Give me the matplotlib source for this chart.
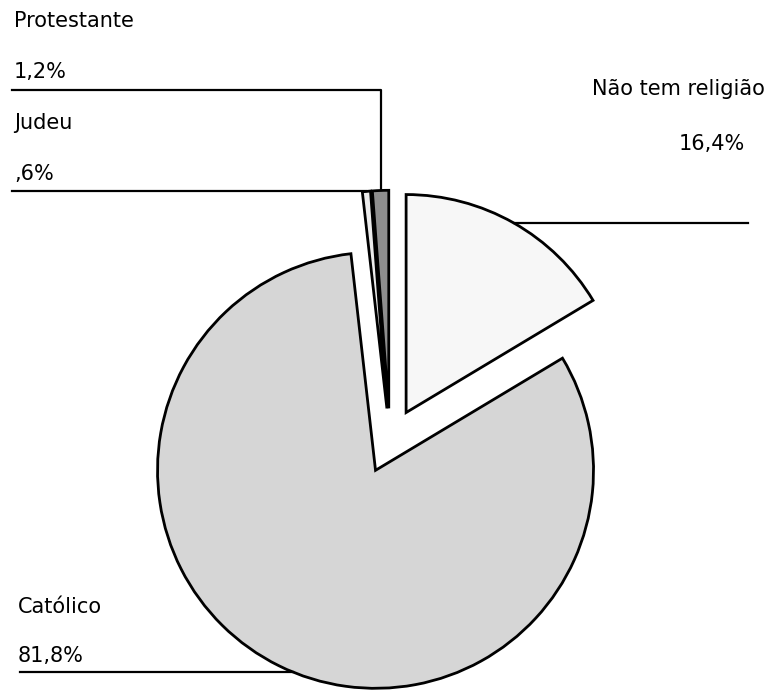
import numpy as np
import matplotlib.pyplot as plt

# data (clockwise from 12 o'clock)
categories = ['Não tem religião', 'Católico', 'Judeu', 'Protestante']
values = [16.4, 81.8, 0.6, 1.2]
pct_labels = ['16,4%', '81,8%', ',6%', '1,2%']
colors = ['#f7f7f7', '#d6d6d6', '#ececec', '#8e8e8e']

W, H = 768, 691
R_PX = 218.0          # pie radius in pixels
CX, CY = 390, 441     # pie centre in pixels (from top-left)


def px(x, y):
    # image pixel -> data coords
    return (x - CX) / R_PX, (CY - y) / R_PX


fig = plt.figure(figsize=(W / 100, H / 100), dpi=100)
ax = fig.add_axes([0, 0, 1, 1])

wedges, _ = ax.pie(values, colors=colors, startangle=90, counterclock=False,
                   explode=[0.15] * 4, radius=1.0,
                   wedgeprops=dict(edgecolor='black', linewidth=2))

# pie() resets the limits, so set them afterwards
ax.set_xlim(px(0, 0)[0], px(W, 0)[0])
ax.set_ylim(px(0, H)[1], px(0, 0)[1])
ax.set_aspect('equal')
ax.axis('off')


def arc_mid(w):
    th = np.deg2rad((w.theta1 + w.theta2) / 2)
    return w.center[0] + w.r * np.cos(th), w.center[1] + w.r * np.sin(th)


fs = 15
lw = 1.6
left = px(12, 0)[0]

# Não tem religião
x0, y0 = arc_mid(wedges[0])
ax.plot([x0, px(748, 0)[0]], [y0, y0], color='black', lw=lw)
ax.text(*px(765, 95), categories[0], ha='right', va='baseline', fontsize=fs)
ax.text(*px(745, 150), pct_labels[0], ha='right', va='baseline', fontsize=fs)

# Católico
yc = px(0, 672)[1]
w = wedges[1]
xc = w.center[0] - np.sqrt(w.r ** 2 - (yc - w.center[1]) ** 2)
ax.plot([px(20, 0)[0], xc], [yc, yc], color='black', lw=lw)
ax.text(*px(18, 613), categories[1], ha='left', va='baseline', fontsize=fs)
ax.text(*px(18, 662), pct_labels[1], ha='left', va='baseline', fontsize=fs)

# Judeu
x0, y0 = arc_mid(wedges[2])
ax.plot([left, x0], [y0, y0], color='black', lw=lw)
ax.text(*px(14, 129), categories[2], ha='left', va='baseline', fontsize=fs)
ax.text(*px(14, 180), pct_labels[2], ha='left', va='baseline', fontsize=fs)

# Protestante
x0, y0 = arc_mid(wedges[3])
yl = px(0, 90)[1]
ax.plot([left, x0, x0], [yl, yl, y0], color='black', lw=lw)
ax.text(*px(14, 27), categories[3], ha='left', va='baseline', fontsize=fs)
ax.text(*px(14, 78), pct_labels[3], ha='left', va='baseline', fontsize=fs)

fig.savefig('out.png', dpi=100, facecolor='white')
